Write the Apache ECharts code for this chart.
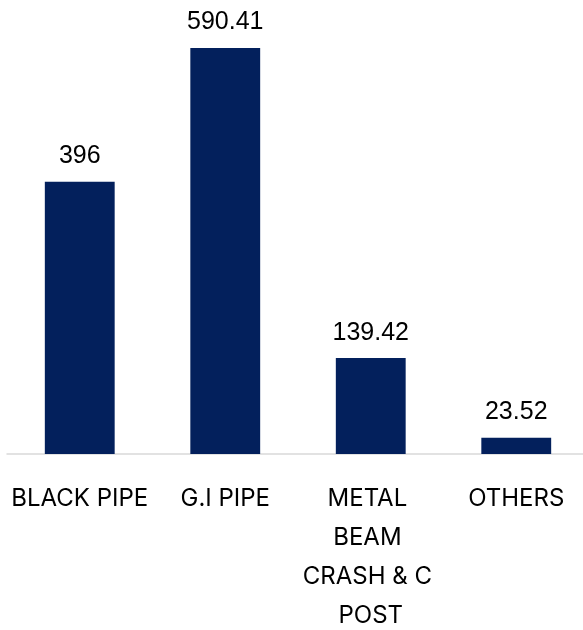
<!DOCTYPE html>
<html>
<head>
<meta charset="utf-8">
<script src="https://cdn.jsdelivr.net/npm/echarts@6/dist/echarts.min.js"></script>
<style>
html,body{margin:0;padding:0;background:#fff;}
#chart{width:583px;height:630px;}
</style>
</head>
<body>
<div id="chart"></div>
<script>
const categories = ["BLACK PIPE", "G.I PIPE", "METAL BEAM CRASH & C POST", "OTHERS"];
const values = [396, 590.41, 139.42, 23.52];

const chart = echarts.init(document.getElementById('chart'));
chart.setOption({
  animation: false,
  grid: { left: 7, width: 582, top: 7, bottom: 176, containLabel: false, outerBoundsMode: 'none' },
  xAxis: {
    type: 'category',
    data: categories,
    axisLine: { lineStyle: { color: '#d9d9d9', width: 1.5 } },
    axisTick: { show: false },
    axisLabel: {
      interval: 0,
      margin: 25,
      color: '#000',
      fontSize: 24,
      lineHeight: 39,
      fontFamily: 'Inter, "Open Sans", sans-serif',
      width: 142,
      overflow: 'break'
    }
  },
  yAxis: {
    type: 'value',
    min: 0,
    max: 650,
    show: false,
    splitLine: { show: false }
  },
  series: [{
    type: 'bar',
    data: values,
    barWidth: '48%',
    itemStyle: { color: '#03205C' },
    label: {
      show: true,
      position: 'top',
      distance: 13,
      color: '#000',
      fontSize: 25,
      fontFamily: '"Liberation Sans", Arial, sans-serif'
    }
  }]
});
</script>
</body>
</html>
